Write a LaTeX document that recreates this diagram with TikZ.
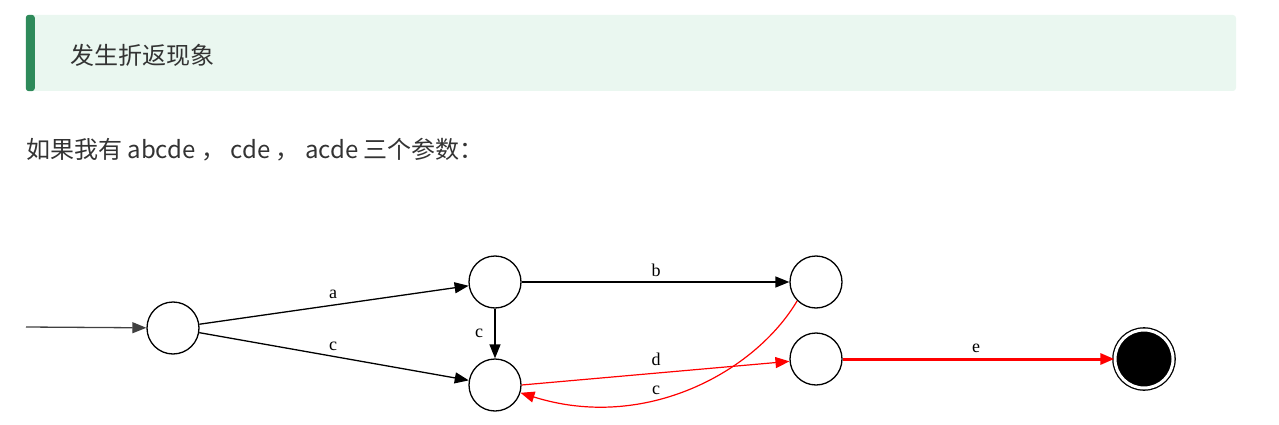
\documentclass[tikz,border=0pt]{standalone}
\usepackage{fontspec}
\setmainfont{Liberation Serif}
\newfontfamily\cjk{Noto Sans CJK SC}
\usepackage{xcolor}
\usetikzlibrary{arrows.meta,positioning}
\definecolor{noteback}{HTML}{EAF7F0}
\definecolor{notebar}{HTML}{2E8A5A}
\definecolor{bodytext}{HTML}{333333}
\tikzset{
  notebox/.style={fill=noteback, rounded corners=3pt, minimum width=1210pt, minimum height=76pt, inner sep=0pt},
  bodyline/.style={font=\cjk\fontsize{24}{28}\selectfont, text=bodytext, anchor=west, inner sep=0pt},
  fsmstate/.style={draw, circle, line width=1.3pt, minimum size=52pt, inner sep=0pt},
  fsmfinal/.style={draw, circle, double=white, double distance=3pt, line width=1.3pt, fill=black, minimum size=58pt, inner sep=0pt},
  fsmarrow/.style={-{Triangle[length=14pt,width=11pt]}, line width=1.3pt},
  hotarrow/.style={fsmarrow, red, line width=1.2pt},
  fsmlabel/.style={font=\fontsize{18}{20}\selectfont, inner sep=1pt}
}

\begin{document}
\begin{tikzpicture}[x=1pt, y=-1pt]
  \useasboundingbox (0,0) rectangle (1279,425);
  % callout
  \node[notebox] (note) at (631,53) {};
  \fill[notebar, rounded corners=3pt] (note.north west) rectangle ([xshift=9pt]note.south west);
  \node[bodyline] (title) at (70,55) {发生折返现象};
  \node[bodyline] (intro) at (26,150) {如果我有 abcde ， cde ， acde 三个参数：};
  % automaton
  \coordinate (start) at (26,327);
  \node[fsmstate] (s0) at (173,328) {};
  \node[fsmstate] (s1) at (495,282) {};
  \node[fsmstate] (s2) at (495,385) {};
  \node[fsmstate] (s3) at (816,282) {};
  \node[fsmstate] (s4) at (816,359) {};
  \node[fsmfinal] (s5) at (1144,359) {};
  \draw[fsmarrow, black!75] (start) -- (s0);
  \draw[fsmarrow] (s0) -- (s1);
  \draw[fsmarrow] (s0) -- (s2);
  \draw[fsmarrow] (s1) -- (s2);
  \draw[fsmarrow] (s1) -- (s3);
  \draw[hotarrow] (s2.east) -- (s4);
  \draw[hotarrow] (s3.225) .. controls (755,372) and (645,432) .. (s2.-17);
  \draw[hotarrow, line width=3pt] (s4) -- (s5);
  \node[fsmlabel] (la) at (333,294) {a};
  \node[fsmlabel] (lc1) at (333,346) {c};
  \node[fsmlabel] (lc2) at (479,333) {c};
  \node[fsmlabel] (lb) at (656,270) {b};
  \node[fsmlabel] (ld) at (656,359) {d};
  \node[fsmlabel] (lc3) at (656,390) {c};
  \node[fsmlabel] (le) at (976,348) {e};
\end{tikzpicture}
\end{document}
